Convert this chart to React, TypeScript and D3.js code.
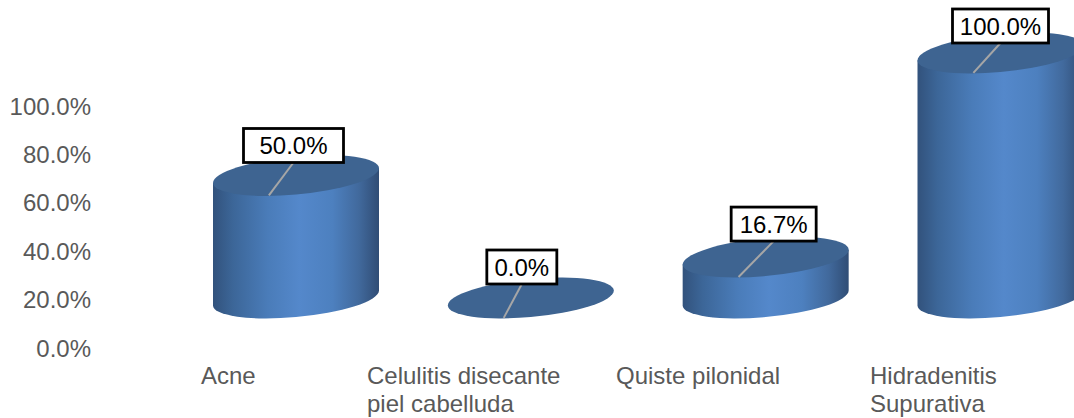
import React from "react";
import * as d3 from "d3";

const categories = ["Acne", "Celulitis disecante|piel cabelluda", "Quiste pilonidal", "Hidradenitis|Supurativa"];
const values = [50.0, 0.0, 16.7, 100.0];
const axisTicks = [0, 20, 40, 60, 80, 100];

const WIDTH = 1074;
const HEIGHT = 418;
const FONT = "'Liberation Sans', Arial, sans-serif";
const FONT_SIZE = 24;

// Cylinder bases rest on y=298; the value axis labels run on their own slightly lower scale.
const xCenter = d3.scaleLinear().domain([0, 3]).range([296, 1000.5]);
const barHeight = d3.scaleLinear().domain([0, 100]).range([0, 245]);
const axisY = d3.scaleLinear().domain([0, 100]).range([348, 106]);
const pct = d3.format(".1f");

const BASE_Y = 298;
const RX = 83;
const RY = 19;
const TILT = 7.4;
const SKEW = (Math.atan(TILT / RX) * 180) / Math.PI;

// Callout box placement relative to each cylinder's top centre.
const labelDx = [-2.5, -9, 8, 0];
const labelDy = [-30, -31, -33, -27];
const labelWidth = [100, 70, 85, 96];
const labelHeight = 34;

const categoryX = [201, 367, 616, 870];

function Cylinder({ value, index }: { value: number; index: number }) {
  const cx = xCenter(index);
  const h = barHeight(value);
  const topY = BASE_Y - h;
  const ext = Math.hypot(RY, TILT);
  const leaderX = cx - (TILT / ext) * RX + 3;
  const leaderY = topY + ext;
  const boxCx = cx + labelDx[index];
  const boxCy = topY + labelDy[index];
  const w = labelWidth[index];
  const body = d3.path();
  body.moveTo(-RX, -h);
  body.lineTo(-RX, 0);
  const bodyD = `${body.toString()} A${RX},${RY} 0 0 0 ${RX},0 L${RX},${-h} Z`;
  return (
    <g>
      <g transform={`translate(${cx},${BASE_Y}) skewY(${-SKEW})`}>
        {h > 0 && <path d={bodyD} fill="url(#cylinderSide)" />}
        <ellipse cx={0} cy={-h} rx={RX} ry={RY} fill="#3e6491" />
      </g>
      <line x1={leaderX} y1={leaderY - 0.5} x2={boxCx} y2={boxCy + labelHeight / 2} stroke="#a6a6a6" strokeWidth={2} />
      <rect x={boxCx - w / 2} y={boxCy - labelHeight / 2} width={w} height={labelHeight} fill="#fff" stroke="#000" strokeWidth={2.8} />
      <text x={boxCx} y={boxCy + 8.5} textAnchor="middle" fontSize={FONT_SIZE} fill="#000" fontFamily={FONT}>
        {pct(value)}%
      </text>
    </g>
  );
}

export default function App() {
  return (
    <svg width={WIDTH} height={HEIGHT} style={{ position: "absolute", left: 0, top: 0, display: "block" }}>
      <defs>
        <linearGradient id="cylinderSide" x1="0" x2="1" y1="0" y2="0">
          <stop offset="0" stopColor="#32527c" />
          <stop offset="0.12" stopColor="#3c6698" />
          <stop offset="0.33" stopColor="#4a7cb9" />
          <stop offset="0.52" stopColor="#5488cb" />
          <stop offset="0.72" stopColor="#4d80bf" />
          <stop offset="0.88" stopColor="#41699c" />
          <stop offset="1" stopColor="#304d75" />
        </linearGradient>
      </defs>
      <rect width={WIDTH} height={HEIGHT} fill="#fff" />
      {axisTicks.map((t) => (
        <text key={t} x={91} y={axisY(t) + 8.5} textAnchor="end" fontSize={FONT_SIZE} fill="#595959" fontFamily={FONT}>
          {pct(t)}%
        </text>
      ))}
      {values.map((v, i) => (
        <Cylinder key={categories[i]} value={v} index={i} />
      ))}
      {categories.map((c, i) => (
        <text key={c} fontSize={FONT_SIZE} fill="#595959" fontFamily={FONT}>
          {c.split("|").map((line, j) => (
            <tspan key={line} x={categoryX[i]} y={384 + j * 28}>
              {line}
            </tspan>
          ))}
        </text>
      ))}
    </svg>
  );
}
